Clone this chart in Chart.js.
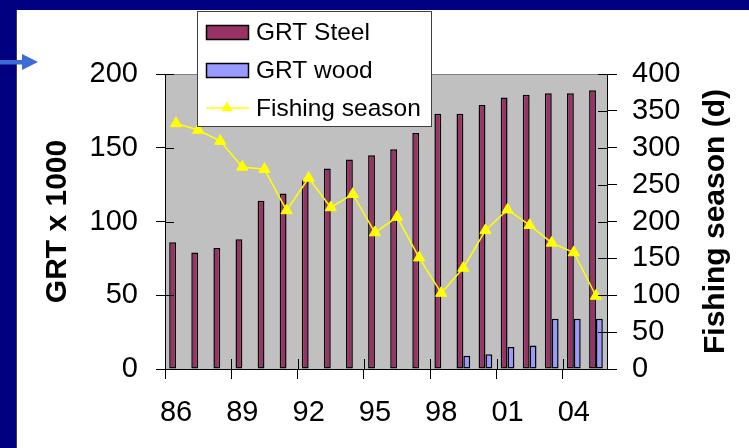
<!DOCTYPE html>
<html>
<head>
<meta charset="utf-8">
<script src="https://cdn.jsdelivr.net/npm/chart.js@4/dist/chart.umd.min.js"></script>
<style>
  html, body { margin: 0; padding: 0; background: #ffffff; overflow: hidden; }
  #fishChart { display: block; }
</style>
</head>
<body>
<canvas id="fishChart" width="749" height="448"></canvas>
<script>
const years = ['86', '87', '88', '89', '90', '91', '92', '93', '94', '95',
               '96', '97', '98', '99', '00', '01', '02', '03', '04', '05'];
const grtSteel = [86, 79, 82, 88, 114, 119, 128, 136, 142, 145,
                  149, 160, 173, 173, 179, 184, 186, 187, 187, 189];
const grtWood = [null, null, null, null, null, null, null, null, null, null,
                 null, null, null, 9, 10, 15, 16, 34, 34, 34];
const fishingSeason = [333, 324, 309, 274, 271, 215, 259, 219, 237, 185,
                       206, 151, 103, 137, 188, 216, 195, 171, 158, 99];
const leftTicks = [0, 50, 100, 150, 200];
const rightTicks = [0, 50, 100, 150, 200, 250, 300, 350, 400];

const FONT = "'Liberation Sans', Arial, Helvetica, sans-serif";
const steelColor = '#993366';
const woodColor = '#9999ff';
const seasonColor = '#ffff00';

// slide background, white panel, grey plot area, arrow
const backdrop = {
    id: 'backdrop',
    beforeDraw(chart) {
        const ctx = chart.ctx;
        const a = chart.chartArea;
        ctx.save();
        ctx.fillStyle = '#000080';
        ctx.fillRect(0, 0, 800, 10);
        ctx.fillRect(0, 0, 16, 500);
        ctx.fillStyle = '#ffffff';
        ctx.fillRect(16, 10, 800, 500);
        ctx.fillStyle = '#404040';
        ctx.fillRect(16, 10, 1, 500);
        ctx.fillStyle = '#c0c0c0';
        ctx.fillRect(a.left, a.top, a.right - a.left, a.bottom - a.top);
        ctx.strokeStyle = '#808080';
        ctx.lineWidth = 1;
        ctx.beginPath();
        ctx.moveTo(a.left, a.top + 0.5);
        ctx.lineTo(a.right, a.top + 0.5);
        ctx.stroke();
        // arrow on the left
        ctx.fillStyle = '#3b6bd6';
        ctx.fillRect(0, 60, 23, 4.5);
        ctx.beginPath();
        ctx.moveTo(22, 54);
        ctx.lineTo(38, 62);
        ctx.lineTo(22, 70);
        ctx.closePath();
        ctx.fill();
        ctx.restore();
    }
};

// short tick marks that go inside the plot (Excel cross ticks)
const innerTicks = {
    id: 'innerTicks',
    afterDatasetsDraw(chart) {
        const ctx = chart.ctx;
        const a = chart.chartArea;
        const y = chart.scales.y, y1 = chart.scales.y1, x = chart.scales.x;
        ctx.save();
        ctx.strokeStyle = '#000';
        ctx.lineWidth = 1;
        ctx.beginPath();
        leftTicks.forEach(v => {
            const p = Math.round(y.getPixelForValue(v)) + 0.5;
            ctx.moveTo(a.left, p);
            ctx.lineTo(a.left + 9, p);
        });
        rightTicks.forEach(v => {
            const p = Math.round(y1.getPixelForValue(v)) + 0.5;
            ctx.moveTo(a.right - 9, p);
            ctx.lineTo(a.right, p);
        });
        const w = (x.right - x.left) / years.length;
        for (let i = 0; i < years.length; i += 3) {
            const p = Math.round(x.left + i * w) + 0.5;
            ctx.moveTo(p, a.bottom - 10);
            ctx.lineTo(p, a.bottom);
        }
        ctx.stroke();
        ctx.restore();
    }
};

// right axis title (reads bottom to top) and the floating legend box
const overlay = {
    id: 'overlay',
    afterDraw(chart) {
        const ctx = chart.ctx;
        const a = chart.chartArea;
        ctx.save();
        ctx.fillStyle = '#000';
        ctx.font = 'bold 30px ' + FONT;
        ctx.textAlign = 'center';
        ctx.textBaseline = 'middle';
        ctx.translate(716, (a.top + a.bottom) / 2);
        ctx.rotate(-Math.PI / 2);
        ctx.fillText('Fishing season (d)', 0, 0);
        ctx.restore();

        ctx.save();
        ctx.fillStyle = '#ffffff';
        ctx.fillRect(197, 11, 234, 115);
        ctx.strokeStyle = '#404040';
        ctx.lineWidth = 1;
        ctx.strokeRect(197.5, 11.5, 234, 115);

        ctx.fillStyle = steelColor;
        ctx.fillRect(206, 25, 42, 14);
        ctx.strokeStyle = '#000';
        ctx.lineWidth = 1.5;
        ctx.strokeRect(206.5, 25.5, 42, 14);
        ctx.fillStyle = woodColor;
        ctx.fillRect(206, 63, 42, 14);
        ctx.strokeRect(206.5, 63.5, 42, 14);

        ctx.strokeStyle = seasonColor;
        ctx.lineWidth = 1.5;
        ctx.beginPath();
        ctx.moveTo(206, 108);
        ctx.lineTo(249, 108);
        ctx.stroke();
        ctx.fillStyle = seasonColor;
        const r = 6.5, cx = 227, cy = 108;
        ctx.beginPath();
        ctx.moveTo(cx, cy - r);
        ctx.lineTo(cx + r * 0.866, cy + r * 0.5);
        ctx.lineTo(cx - r * 0.866, cy + r * 0.5);
        ctx.closePath();
        ctx.fill();

        ctx.fillStyle = '#000';
        ctx.font = '24.5px ' + FONT;
        ctx.textAlign = 'left';
        ctx.textBaseline = 'alphabetic';
        ctx.fillText('GRT Steel', 256, 40);
        ctx.fillText('GRT wood', 256, 78);
        ctx.fillText('Fishing season', 256, 116);
        ctx.restore();
    }
};

const data = {
    labels: years,
    datasets: [{
        type: 'line',
        label: 'Fishing season',
        data: fishingSeason,
        yAxisID: 'y1',
        borderColor: seasonColor,
        backgroundColor: seasonColor,
        borderWidth: 1.5,
        pointStyle: 'triangle',
        pointRadius: 6.5,
        pointBorderWidth: 1,
        pointBorderColor: seasonColor,
        pointBackgroundColor: seasonColor,
        tension: 0,
        order: 0
    },
    {
        type: 'bar',
        label: 'GRT Steel',
        data: grtSteel,
        yAxisID: 'y',
        backgroundColor: steelColor,
        borderColor: '#000',
        borderWidth: 1.5,
        borderSkipped: false,
        categoryPercentage: 0.62,
        barPercentage: 1.0,
        order: 1
    },
    {
        type: 'bar',
        label: 'GRT wood',
        data: grtWood,
        yAxisID: 'y',
        backgroundColor: woodColor,
        borderColor: '#000',
        borderWidth: 1.5,
        borderSkipped: false,
        categoryPercentage: 0.62,
        barPercentage: 1.0,
        order: 2
    }]
};

const config = {
    type: 'bar',
    data: data,
    options: {
        responsive: false,
        animation: false,
        devicePixelRatio: 1,
        layout: {
            padding: { top: 74, left: 0, right: 0, bottom: 0 }
        },
        plugins: {
            legend: { display: false },
            title: { display: false },
            tooltip: { enabled: false }
        },
        scales: {
            x: {
                type: 'category',
                offset: true,
                afterFit: s => { s.height = 79; },
                grid: {
                    offset: true,
                    drawOnChartArea: false,
                    drawTicks: true,
                    tickLength: 10,
                    lineWidth: 1,
                    color: ctx => (ctx.index % 3 === 0 ? '#000' : 'rgba(0,0,0,0)')
                },
                border: { display: true, color: '#000', width: 1 },
                ticks: {
                    autoSkip: false,
                    maxRotation: 0,
                    minRotation: 0,
                    padding: 17,
                    color: '#000',
                    font: { family: FONT, size: 29 },
                    callback: (v, i) => (i % 3 === 0 ? years[i] : '')
                }
            },
            y: {
                position: 'left',
                min: 0,
                max: 200,
                afterFit: s => { s.width = 165; },
                grid: {
                    drawOnChartArea: false,
                    drawTicks: true,
                    tickLength: 9,
                    color: '#000'
                },
                border: { display: true, color: '#000', width: 1 },
                ticks: {
                    stepSize: 50,
                    autoSkip: false,
                    padding: 18,
                    color: '#000',
                    font: { family: FONT, size: 29 }
                },
                title: {
                    display: true,
                    text: 'GRT x 1000',
                    color: '#000',
                    font: { family: FONT, size: 30, weight: 'bold' },
                    padding: { top: 40, bottom: 0 }
                }
            },
            y1: {
                position: 'right',
                min: 0,
                max: 400,
                afterFit: s => { s.width = 142; },
                grid: {
                    drawOnChartArea: false,
                    drawTicks: true,
                    tickLength: 10,
                    color: '#000'
                },
                border: { display: true, color: '#000', width: 1 },
                ticks: {
                    stepSize: 50,
                    autoSkip: false,
                    padding: 15,
                    color: '#000',
                    font: { family: FONT, size: 29 }
                }
            }
        }
    },
    plugins: [backdrop, innerTicks, overlay]
};

var chart = new Chart('fishChart', config);
</script>
</body>
</html>
